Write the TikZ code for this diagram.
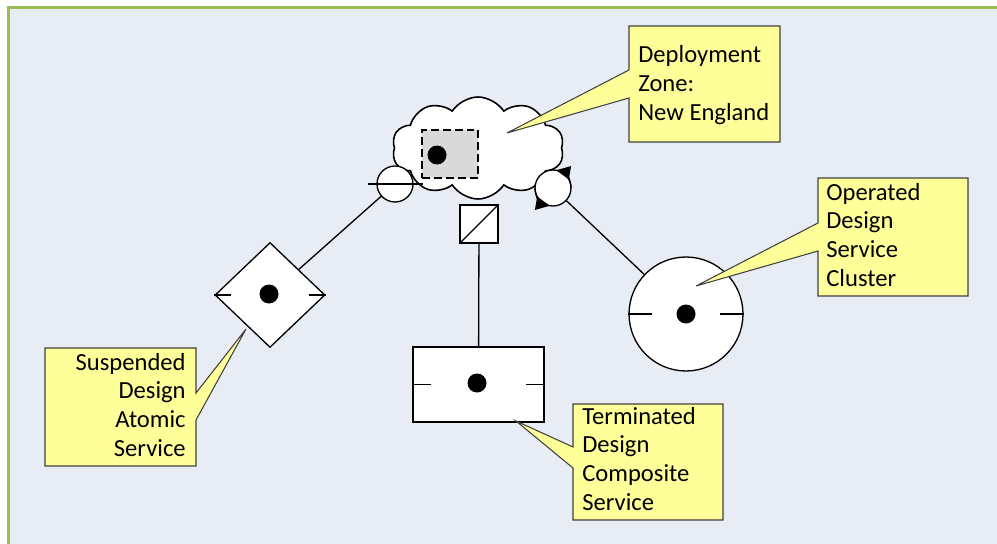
\documentclass[tikz,border=0pt]{standalone}
\usepackage{fontspec}
\setmainfont{Carlito}
\usetikzlibrary{arrows.meta,shapes.geometric,shapes.symbols}
\definecolor{bgblue}{RGB}{232,237,245}
\definecolor{framegreen}{RGB}{155,187,89}
\definecolor{noteyellow}{RGB}{255,255,153}
\definecolor{zonegray}{RGB}{217,217,217}
\tikzset{
	part/.style={draw, fill=white, line width=0.75pt, inner sep=0pt},
	wire/.style={line width=0.75pt},
	turn/.style={line width=0.75pt, -{Triangle[length=8pt, width=7.5pt]}},
	note/.style={draw=black!75, fill=noteyellow, line width=0.6pt, line join=miter},
	notetext/.style={font=\fontsize{14}{16.3}\selectfont, inner sep=0pt},
}

\begin{document}
\begin{tikzpicture}[x=0.02cm, y=-0.02cm]
			%%%%% START %%%%%
			\useasboundingbox (0,0) rectangle (997,544);
			\fill[bgblue] (8,7) rectangle (997,544);
			\draw[framegreen, line width=1.5pt] (8.3,544) -- (8.3,7.5) -- (997,7.5);
			
			% deployment zone
			\node[cloud, draw, fill=white, line width=0.9pt, cloud puffs=10, cloud puff arc=115, cloud ignores aspect, minimum width=3.44cm, minimum height=2.04cm, inner sep=0pt] (zone) at (478,148) {};
			\node[draw, dash pattern=on 4.5pt off 2.3pt, fill=zonegray, line width=0.75pt, minimum width=1.12cm, minimum height=0.96cm, inner sep=0pt] (slot) at (450,154) {};
			\fill (437,155) circle (9.5);
			
			% ports round the zone
			\node[part, circle, minimum size=0.72cm] (bind) at (395,184) {};
			\draw[wire] (bind.center) ++(-27,0) -- ++(55,0);
			\node[part, circle, minimum size=0.72cm] (rot) at (553,188) {};
			\draw[turn] (rot.center) ++(0:18) arc (0:-80:18);
			\draw[turn] (rot.center) ++(180:18) arc (180:100:18);
			\node[part, minimum size=0.76cm] (bridge) at (479,224) {};
			\draw[wire] (bridge.south west) -- (bridge.north east);
			
			% services
			\node[part, diamond, minimum width=2.2cm, minimum height=2.1cm] (atomic) at (270,295) {};
			\draw[wire] (atomic.west) -- ++(17,0);
			\draw[wire] (atomic.east) -- ++(-17,0);
			\fill (269,294) circle (9.5);
			
			\node[part, minimum width=2.62cm, minimum height=1.5cm] (comp) at (478.5,384.5) {};
			\draw[wire] (comp.west) -- ++(19,0);
			\draw[wire] (comp.east) -- ++(-19,0);
			\fill (477,383) circle (9.5);
			
			\node[part, circle, minimum size=2.28cm] (cluster) at (686,314) {};
			\draw[wire] (cluster.west) -- ++(24,0);
			\draw[wire] (cluster.east) -- ++(-24,0);
			\fill (686,314) circle (9.5);
			
			\draw[wire] (bind) -- (atomic);
			\draw[wire] (bridge) -- (comp);
			\draw[wire] (rot) -- (cluster);
			
			% callouts
			\draw[note] (629,26) -- (780,26) -- (780,142) -- (629,142) -- (629,98) -- (507,133) -- (629,70) -- cycle;
			\node[notetext, align=left, anchor=base west] (zonenote) at (638,120) {Deployment\\Zone:\\New England};
			
			\draw[note] (818,178) -- (968,178) -- (968,296) -- (818,296) -- (818,251) -- (696,286) -- (818,223) -- cycle;
			\node[notetext, align=left, anchor=base west] (clusternote) at (826,286) {Operated\\Design\\Service\\Cluster};
			
			\draw[note] (45,348) -- (196,348) -- (196,393) -- (246,329) -- (196,420) -- (196,466) -- (45,466) -- cycle;
			\node[notetext, align=right, anchor=base east] (atomicnote) at (186,456) {Suspended\\Design\\Atomic\\Service};
			
			\draw[note] (573,404) -- (723,404) -- (723,520) -- (573,520) -- (573,468) -- (516,421) -- (573,447) -- cycle;
			\node[notetext, align=left, anchor=base west] (compnote) at (582,510) {Terminated\\Design\\Composite\\Service};
			%%%%% END %%%%%
\end{tikzpicture}
\end{document}
